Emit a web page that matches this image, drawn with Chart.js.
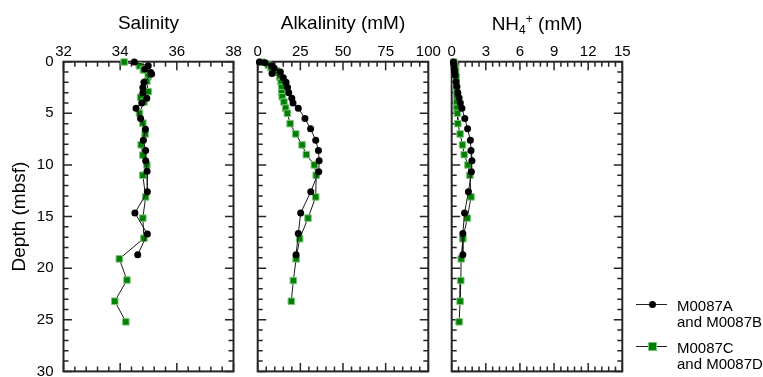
<!DOCTYPE html>
<html>
<head>
<meta charset="utf-8">
<script src="https://cdn.jsdelivr.net/npm/chart.js@4/dist/chart.umd.min.js"></script>
<style>
html,body{margin:0;padding:0;background:#fff;}
#wrap{position:relative;width:763px;height:377px;overflow:hidden;font-family:"Liberation Sans",Arial,sans-serif;color:#000;}
canvas{position:absolute;top:0;}
#nhTitle{position:absolute;left:437px;width:200px;top:14px;text-align:center;font-size:19px;line-height:19px;white-space:nowrap;}
#nhTitle .sub{font-size:12px;position:relative;top:3.5px;}
#nhTitle .sup{font-size:12px;position:relative;top:-7.5px;}
.legLine{position:absolute;height:1px;background:#222;}
.legDot{position:absolute;width:7px;height:7px;border-radius:50%;background:#000;}
.legSq{position:absolute;width:7px;height:7px;background:#008000;box-shadow:0 0 0 1px #7fc47f;}
.legText{position:absolute;font-size:15px;line-height:16px;white-space:nowrap;}
</style>
</head>
<body>
<div id="wrap">
  <canvas id="c1" width="245" height="377" style="left:0px"></canvas>
  <canvas id="c2" width="198" height="377" style="left:245px"></canvas>
  <canvas id="c3" width="197" height="377" style="left:443px"></canvas>
  <div id="nhTitle">NH<span class="sub">4</span><span class="sup">+</span> (mM)</div>
  <div class="legLine" style="left:636px;top:304px;width:31px;"></div>
  <div class="legDot" style="left:649px;top:301px;"></div>
  <div class="legText" style="left:677px;top:297.5px;">M0087A<br>and M0087B</div>
  <div class="legLine" style="left:636px;top:346px;width:31px;"></div>
  <div class="legSq" style="left:649px;top:343px;"></div>
  <div class="legText" style="left:677px;top:339.5px;">M0087C<br>and M0087D</div>
</div>
<script>
// ---------------- data ----------------
const seriesLabels = ['M0087A and M0087B', 'M0087C and M0087D'];
const panelTitles = ['Salinity', 'Alkalinity (mM)', 'NH4+ (mM)'];
const depthTitle = 'Depth (mbsf)';

const depthTicks = [0, 5, 10, 15, 20, 25, 30];
const salinityTicks = [32, 34, 36, 38];
const alkalinityTicks = [0, 25, 50, 75, 100];
const ammoniumTicks = [0, 3, 6, 9, 12, 15];

// Salinity
const salDepthAB = [0.03, 0.4, 0.7, 1.05, 1.2, 2.0, 2.5, 3.0, 3.55, 4.0, 4.5, 5.5, 6.55, 7.6, 8.6, 9.6, 10.6, 12.6, 14.65, 16.7, 18.7];
const salinityAB = [34.5, 34.99, 34.88, 35.08, 35.11, 34.84, 34.8, 34.8, 34.94, 34.76, 34.56, 34.72, 34.89, 34.82, 34.9, 34.9, 34.95, 34.96, 34.52, 34.96, 34.62];
const salDepthCD = [0.03, 0.4, 0.8, 1.4, 1.9, 2.9, 3.45, 3.9, 5.0, 5.95, 7.0, 8.05, 9.05, 10.0, 11.0, 13.1, 15.15, 17.1, 19.1, 21.15, 23.2, 25.2];
const salinityCD = [34.14, 34.68, 34.82, 34.99, 34.94, 34.99, 34.72, 34.84, 34.68, 34.8, 34.88, 34.74, 34.8, 34.94, 34.8, 34.9, 34.8, 34.84, 33.97, 34.24, 33.81, 34.2];

// Alkalinity (mM)
const alkDepthAB = [0.03, 0.1, 0.4, 0.6, 1.0, 1.15, 1.55, 2.0, 2.5, 3.0, 3.55, 4.0, 4.5, 5.5, 6.5, 7.6, 8.6, 9.6, 10.65, 12.6, 14.65, 16.65, 18.7];
const alkalinityAB = [1.0, 4.3, 8.2, 9.6, 13.3, 8.4, 15.0, 16.6, 17.5, 18.2, 20.0, 20.7, 23.8, 27.7, 31.0, 34.0, 35.6, 36.0, 35.8, 31.1, 25.2, 23.8, 22.5];
const alkDepthCD = [0.05, 0.32, 0.58, 0.9, 1.5, 2.0, 2.5, 3.0, 3.4, 3.9, 4.5, 5.0, 6.0, 7.0, 8.06, 9.0, 10.0, 11.0, 13.1, 15.15, 17.15, 19.1, 21.2, 23.2];
const alkalinityCD = [2.5, 6.2, 7.8, 11.1, 13.0, 13.7, 14.1, 14.1, 14.4, 15.4, 16.4, 17.4, 19.0, 22.3, 26.0, 28.5, 33.2, 34.3, 34.0, 29.5, 24.6, 22.5, 20.9, 19.7];

// NH4+ (mM)
const nhDepthAB = [0.03, 0.3, 0.7, 1.0, 1.3, 1.94, 2.4, 3.0, 3.5, 4.0, 4.5, 5.5, 6.5, 7.6, 8.6, 9.6, 10.65, 12.6, 14.65, 16.65, 18.7];
const ammoniumAB = [0.15, 0.18, 0.22, 0.26, 0.3, 0.38, 0.45, 0.54, 0.65, 0.76, 0.9, 1.15, 1.4, 1.64, 1.7, 1.78, 1.73, 1.47, 1.13, 0.98, 0.98];
const nhDepthCD = [0.05, 0.3, 0.6, 0.9, 1.5, 2.0, 2.5, 3.0, 3.4, 3.9, 4.5, 5.0, 6.0, 7.0, 8.06, 9.0, 10.0, 11.0, 13.1, 15.15, 17.15, 19.1, 21.2, 23.2, 25.2];
const ammoniumCD = [0.2, 0.25, 0.3, 0.35, 0.4, 0.4, 0.42, 0.45, 0.45, 0.45, 0.45, 0.5, 0.54, 0.74, 0.95, 1.1, 1.43, 1.6, 1.7, 1.37, 0.98, 0.83, 0.8, 0.74, 0.65];

// ---------------- drawing ----------------
const FONT = '"Liberation Sans", Arial, sans-serif';
Chart.defaults.font.family = FONT;
Chart.defaults.color = '#000';
const AXIS = '#262626';
const LINE = '#1a1a1a';

function pts(depths, vals) { return depths.map((d, i) => ({ x: vals[i], y: d })); }

const frameTicks = {
  id: 'frameTicks',
  beforeDatasetsDraw(chart, args, opts) {
    const { ctx, chartArea: a, scales: { x, y } } = chart;
    ctx.save();
    ctx.strokeStyle = AXIS;
    ctx.lineWidth = 1.5;
    ctx.beginPath();
    const nx = Math.round((x.max - x.min) / opts.xMinor);
    for (let i = 0; i <= nx; i++) {
      const v = x.min + i * opts.xMinor;
      const px = x.getPixelForValue(v);
      const len = (i % opts.xEvery === 0) ? 8.5 : 5;
      ctx.moveTo(px, a.top); ctx.lineTo(px, a.top + len);
      ctx.moveTo(px, a.bottom); ctx.lineTo(px, a.bottom - len);
    }
    const ny = Math.round((y.max - y.min) / 1);
    for (let i = 0; i <= ny; i++) {
      const py = y.getPixelForValue(y.min + i);
      const len = (i % 5 === 0) ? 8.5 : 5;
      ctx.moveTo(a.left, py); ctx.lineTo(a.left + len, py);
      ctx.moveTo(a.right, py); ctx.lineTo(a.right - len, py);
    }
    ctx.stroke();
    ctx.lineWidth = 2;
    ctx.strokeRect(a.left, a.top, a.right - a.left, a.bottom - a.top);
    ctx.restore();
  }
};

function makePanel(id, p) {
  const ticksArr = p.ticks;
  return new Chart(document.getElementById(id), {
    type: 'scatter',
    data: {
      datasets: [
        { label: seriesLabels[0], data: pts(p.dA, p.vA), showLine: true, borderColor: LINE, borderWidth: 1,
          pointStyle: 'circle', pointRadius: 3.5, pointBackgroundColor: '#000', pointBorderColor: '#000', pointBorderWidth: 0, clip: false },
        { label: seriesLabels[1], data: pts(p.dC, p.vC), showLine: true, borderColor: LINE, borderWidth: 1,
          pointStyle: 'rect', pointRadius: 4.6, pointBackgroundColor: '#008000', pointBorderColor: '#7fc47f', pointBorderWidth: 1, clip: false }
      ]
    },
    options: {
      responsive: false, maintainAspectRatio: false, animation: false, devicePixelRatio: 1,
      layout: { padding: p.padding },
      plugins: {
        legend: { display: false }, tooltip: { enabled: false },
        frameTicks: { xMinor: p.xMinor, xEvery: p.xEvery }
      },
      scales: {
        x: {
          type: 'linear', position: 'top',
          min: ticksArr[0], max: ticksArr[ticksArr.length - 1],
          afterBuildTicks: (s) => { s.ticks = ticksArr.map(v => ({ value: v })); },
          ticks: { font: { size: 15 }, color: '#000', padding: 1, maxRotation: 0, autoSkip: false },
          grid: { display: false, drawTicks: false },
          border: { display: false },
          title: { display: !!p.title, text: p.title || '', font: { size: 19 }, color: '#000', padding: { top: 12, bottom: 0 } },
          afterFit: (s) => { s.height = 61.7; s.paddingLeft = 0; s.paddingRight = 0; }
        },
        y: {
          type: 'linear', position: 'left', reverse: true,
          min: depthTicks[0], max: depthTicks[depthTicks.length - 1],
          display: p.showY,
          afterBuildTicks: (s) => { s.ticks = depthTicks.map(v => ({ value: v })); },
          ticks: { font: { size: 15 }, color: '#000', padding: 10, autoSkip: false },
          grid: { display: false, drawTicks: false },
          border: { display: false },
          title: { display: p.showY, text: depthTitle, font: { size: 19 }, color: '#000', padding: { top: 8.7, bottom: 0 } },
          afterFit: (s) => { s.width = p.showY ? 63.5 : 0; s.paddingTop = 0; s.paddingBottom = 0; }
        }
      }
    },
    plugins: [frameTicks]
  });
}

makePanel('c1', { title: panelTitles[0], ticks: salinityTicks, xMinor: 0.4, xEvery: 5, showY: true,
  dA: salDepthAB, vA: salinityAB, dC: salDepthCD, vC: salinityCD,
  padding: { left: 0, top: 0, right: 11.5, bottom: 5.3 } });
makePanel('c2', { title: panelTitles[1], ticks: alkalinityTicks, xMinor: 5, xEvery: 5, showY: false,
  dA: alkDepthAB, vA: alkalinityAB, dC: alkDepthCD, vC: alkalinityCD,
  padding: { left: 12.7, top: 0, right: 14.7, bottom: 5.3 } });
makePanel('c3', { title: null, ticks: ammoniumTicks, xMinor: 0.6, xEvery: 5, showY: false,
  dA: nhDepthAB, vA: ammoniumAB, dC: nhDepthCD, vC: ammoniumCD,
  padding: { left: 8.7, top: 0, right: 17.7, bottom: 5.3 } });
</script>
</body>
</html>
